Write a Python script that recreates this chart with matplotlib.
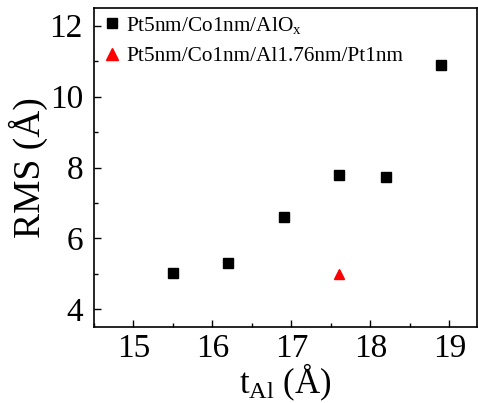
import matplotlib.pyplot as plt
from matplotlib.ticker import MultipleLocator

plt.rcParams['font.family'] = ['Liberation Serif', 'DejaVu Serif']
plt.rcParams['mathtext.fontset'] = 'custom'
plt.rcParams['mathtext.rm'] = 'Liberation Serif'
plt.rcParams['mathtext.it'] = 'Liberation Serif'

# AlOx series
t_alox = [15.5, 16.2, 16.9, 17.6, 18.2, 18.9]
rms_alox = [5.02, 5.3, 6.6, 7.78, 7.72, 10.9]

# Al/Pt capped sample
t_pt = [17.6]
rms_pt = [5.0]

fig = plt.figure(figsize=(4.78, 4.03), dpi=100)
ax = fig.add_axes([94 / 478, 1 - 327 / 403, (477 - 94) / 478, (327 - 8) / 403])

ax.plot(t_alox, rms_alox, 's', color='black', markersize=6.5, label=r'Pt5nm/Co1nm/AlO$_\mathrm{x}$')
ax.plot(t_pt, rms_pt, '^', color='red', markersize=7.5, label='Pt5nm/Co1nm/Al1.76nm/Pt1nm')

ax.set_xlim(14.5, 19.35)
ax.set_ylim(3.5, 12.5)
ax.xaxis.set_major_locator(MultipleLocator(1))
ax.xaxis.set_minor_locator(MultipleLocator(0.5))
ax.yaxis.set_major_locator(MultipleLocator(2))
ax.yaxis.set_minor_locator(MultipleLocator(1))
ax.tick_params(which='both', direction='in', labelsize=24, width=1)
ax.tick_params(which='major', length=5)
ax.tick_params(axis='x', pad=5)
ax.tick_params(axis='y', pad=8)
ax.tick_params(which='minor', length=3)
for s in ax.spines.values():
    s.set_linewidth(1.2)

ax.set_xlabel(r't$_\mathrm{Al}$ (Å)', fontsize=25, labelpad=-2)
ax.set_ylabel('RMS (Å)', fontsize=27, labelpad=1)

ax.legend(loc='upper left', bbox_to_anchor=(-0.013, 1.012), frameon=False,
          fontsize=15.3, handletextpad=0.05, handlelength=1.2,
          borderaxespad=0.1, labelspacing=0.5, markerscale=1.15)

fig.savefig('out.png', dpi=100)
